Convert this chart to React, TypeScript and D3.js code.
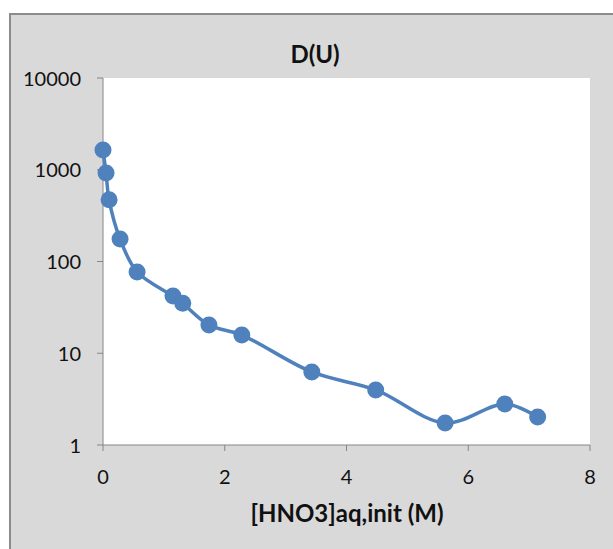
import React from "react";
import * as d3 from "d3";

const xValues = [0.0, 0.05, 0.1, 0.28, 0.56, 1.15, 1.31, 1.74, 2.28, 3.43, 4.48, 5.62, 6.6, 7.14];
const yValues = [1640, 920, 470, 176, 77, 42, 35, 20.3, 15.8, 6.25, 3.98, 1.74, 2.8, 2.02];
const xTicks = [0, 2, 4, 6, 8];
const yTicks = [1, 10, 100, 1000, 10000];
const chartTitle = "D(U)";
const xTitle = "[HNO3]aq,init (M)";

const W = 613;
const H = 549;
const plot = { left: 103, right: 590, top: 78, bottom: 445 };
const font = "Lato, 'Open Sans', sans-serif";
const blue = "#4F81BD";
const axisColor = "#868686";

export default function App() {
  const x = d3.scaleLinear().domain([0, 8]).range([plot.left, plot.right]);
  const y = d3.scaleLog().domain([1, 10000]).range([plot.bottom, plot.top]);
  const pts: [number, number][] = xValues.map((v, i) => [x(v), y(yValues[i])]);
  const line = d3.line().curve(d3.curveCatmullRom.alpha(0.5))(pts) || "";

  return (
    <svg width={W} height={H} style={{ position: "absolute", left: 0, top: 0 }}>
      <rect x={10} y={14} width={W + 20} height={H + 20} fill="#D9D9D9" stroke="#8C8C8C" strokeWidth={2} />
      <rect x={plot.left} y={plot.top} width={plot.right - plot.left} height={plot.bottom - plot.top} fill="#fff" />
      <line x1={plot.left} x2={plot.left} y1={plot.top} y2={plot.bottom} stroke={axisColor} strokeWidth={1} />
      <line x1={plot.left} x2={plot.right} y1={plot.bottom} y2={plot.bottom} stroke={axisColor} strokeWidth={1} />
      {yTicks.map((t) => (
        <g key={"y" + t}>
          <line x1={plot.left - 6} x2={plot.left} y1={y(t)} y2={y(t)} stroke={axisColor} />
          <text x={81} y={y(t) + 7.5} textAnchor="end" fontFamily={font} fontSize={20} fill="#111">
            {t}
          </text>
        </g>
      ))}
      {xTicks.map((t) => (
        <g key={"x" + t}>
          <line x1={x(t)} x2={x(t)} y1={plot.bottom} y2={plot.bottom + 6} stroke={axisColor} />
          <text x={x(t)} y={484} textAnchor="middle" fontFamily={font} fontSize={20} fill="#111">
            {t}
          </text>
        </g>
      ))}
      <path d={line} fill="none" stroke={blue} strokeWidth={3.5} strokeLinejoin="round" strokeLinecap="round" />
      {pts.map((p, i) => (
        <circle key={i} cx={p[0]} cy={p[1]} r={8.5} fill={blue} />
      ))}
      <text x={315} y={63} textAnchor="middle" fontFamily={font} fontSize={24} fontWeight="bold" fill="#111">
        {chartTitle}
      </text>
      <text x={347} y={522} textAnchor="middle" fontFamily={font} fontSize={24} fontWeight="bold" fill="#111">
        {xTitle}
      </text>
    </svg>
  );
}
